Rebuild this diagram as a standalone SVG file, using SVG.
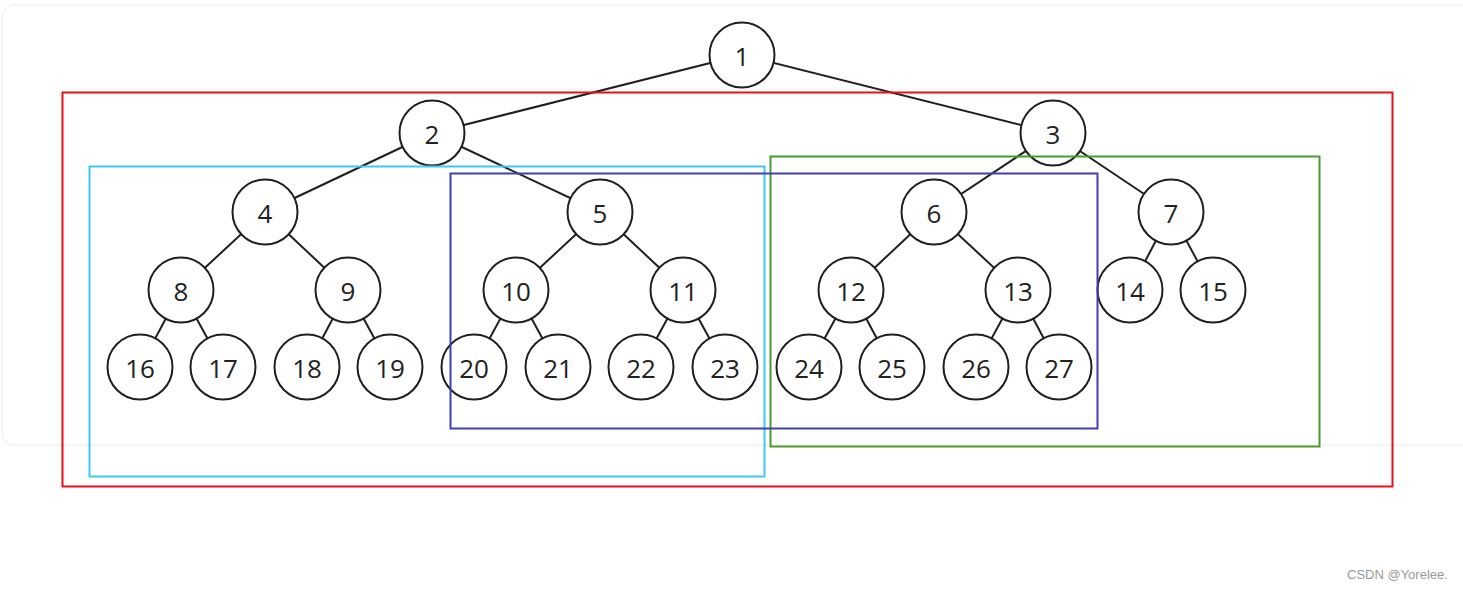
<svg xmlns="http://www.w3.org/2000/svg" width="1463" height="589" viewBox="0 0 1463 589">
<style>
.card{fill:#fff;stroke:#ececec;stroke-width:1}
.edge{stroke:#1f1f1f;stroke-width:2;fill:none}
.node circle{fill:#fff;stroke:#1f1f1f;stroke-width:2}
.node text{font-family:"Open Sans","Noto Sans",sans-serif;font-size:26px;fill:#222;text-anchor:middle;dominant-baseline:central}
.box{fill:none;stroke-width:2}
.wm{font-family:"Liberation Sans",Arial,sans-serif;font-size:13px;fill:#999}
</style>
<rect width="1463" height="589" fill="#fff"/>
<rect class="card" x="2" y="5" width="1480" height="440" rx="12"/>
<g id="connectors">
<line class="edge" x1="742" y1="55" x2="432" y2="133"/>
<line class="edge" x1="742" y1="55" x2="1053" y2="133"/>
<line class="edge" x1="432" y1="133" x2="265" y2="212"/>
<line class="edge" x1="432" y1="133" x2="600" y2="212"/>
<line class="edge" x1="1053" y1="133" x2="934" y2="212"/>
<line class="edge" x1="1053" y1="133" x2="1171" y2="212"/>
<line class="edge" x1="265" y1="212" x2="181" y2="290"/>
<line class="edge" x1="265" y1="212" x2="348" y2="290"/>
<line class="edge" x1="600" y1="212" x2="516" y2="290"/>
<line class="edge" x1="600" y1="212" x2="683" y2="290"/>
<line class="edge" x1="934" y1="212" x2="851" y2="290"/>
<line class="edge" x1="934" y1="212" x2="1018" y2="290"/>
<line class="edge" x1="1171" y1="212" x2="1130" y2="290"/>
<line class="edge" x1="1171" y1="212" x2="1213" y2="290"/>
<line class="edge" x1="181" y1="290" x2="140" y2="367"/>
<line class="edge" x1="181" y1="290" x2="223" y2="367"/>
<line class="edge" x1="348" y1="290" x2="307" y2="367"/>
<line class="edge" x1="348" y1="290" x2="390" y2="367"/>
<line class="edge" x1="516" y1="290" x2="474" y2="367"/>
<line class="edge" x1="516" y1="290" x2="558" y2="367"/>
<line class="edge" x1="683" y1="290" x2="641" y2="367"/>
<line class="edge" x1="683" y1="290" x2="725" y2="367"/>
<line class="edge" x1="851" y1="290" x2="809" y2="367"/>
<line class="edge" x1="851" y1="290" x2="892" y2="367"/>
<line class="edge" x1="1018" y1="290" x2="976" y2="367"/>
<line class="edge" x1="1018" y1="290" x2="1059" y2="367"/>
</g>
<g id="n1" class="node"><circle cx="742" cy="55" r="32.5"/><text x="742" y="56">1</text></g>
<g id="n2" class="node"><circle cx="432" cy="133" r="32.5"/><text x="432" y="134">2</text></g>
<g id="n3" class="node"><circle cx="1053" cy="133" r="32.5"/><text x="1053" y="134">3</text></g>
<g id="n4" class="node"><circle cx="265" cy="212" r="32.5"/><text x="265" y="213">4</text></g>
<g id="n5" class="node"><circle cx="600" cy="212" r="32.5"/><text x="600" y="213">5</text></g>
<g id="n6" class="node"><circle cx="934" cy="212" r="32.5"/><text x="934" y="213">6</text></g>
<g id="n7" class="node"><circle cx="1171" cy="212" r="32.5"/><text x="1171" y="213">7</text></g>
<g id="n8" class="node"><circle cx="181" cy="290" r="32.5"/><text x="181" y="291">8</text></g>
<g id="n9" class="node"><circle cx="348" cy="290" r="32.5"/><text x="348" y="291">9</text></g>
<g id="n10" class="node"><circle cx="516" cy="290" r="32.5"/><text x="516" y="291">10</text></g>
<g id="n11" class="node"><circle cx="683" cy="290" r="32.5"/><text x="683" y="291">11</text></g>
<g id="n12" class="node"><circle cx="851" cy="290" r="32.5"/><text x="851" y="291">12</text></g>
<g id="n13" class="node"><circle cx="1018" cy="290" r="32.5"/><text x="1018" y="291">13</text></g>
<g id="n14" class="node"><circle cx="1130" cy="290" r="32.5"/><text x="1130" y="291">14</text></g>
<g id="n15" class="node"><circle cx="1213" cy="290" r="32.5"/><text x="1213" y="291">15</text></g>
<g id="n16" class="node"><circle cx="140" cy="367" r="32.5"/><text x="140" y="368">16</text></g>
<g id="n17" class="node"><circle cx="223" cy="367" r="32.5"/><text x="223" y="368">17</text></g>
<g id="n18" class="node"><circle cx="307" cy="367" r="32.5"/><text x="307" y="368">18</text></g>
<g id="n19" class="node"><circle cx="390" cy="367" r="32.5"/><text x="390" y="368">19</text></g>
<g id="n20" class="node"><circle cx="474" cy="367" r="32.5"/><text x="474" y="368">20</text></g>
<g id="n21" class="node"><circle cx="558" cy="367" r="32.5"/><text x="558" y="368">21</text></g>
<g id="n22" class="node"><circle cx="641" cy="367" r="32.5"/><text x="641" y="368">22</text></g>
<g id="n23" class="node"><circle cx="725" cy="367" r="32.5"/><text x="725" y="368">23</text></g>
<g id="n24" class="node"><circle cx="809" cy="367" r="32.5"/><text x="809" y="368">24</text></g>
<g id="n25" class="node"><circle cx="892" cy="367" r="32.5"/><text x="892" y="368">25</text></g>
<g id="n26" class="node"><circle cx="976" cy="367" r="32.5"/><text x="976" y="368">26</text></g>
<g id="n27" class="node"><circle cx="1059" cy="367" r="32.5"/><text x="1059" y="368">27</text></g>
<g id="boxes">
<rect class="box" x="62.5" y="92.5" width="1330" height="394" stroke="#e3111b"/>
<rect class="box" x="89.5" y="166.5" width="675" height="310" stroke="#3ec8f4"/>
<rect class="box" x="770.5" y="156.5" width="549" height="290" stroke="#4b9a2e"/>
<rect class="box" x="450.5" y="173.5" width="647" height="255" stroke="#4040b0"/>
</g>
<text class="wm" x="1347" y="579">CSDN @Yorelee.</text>
</svg>
